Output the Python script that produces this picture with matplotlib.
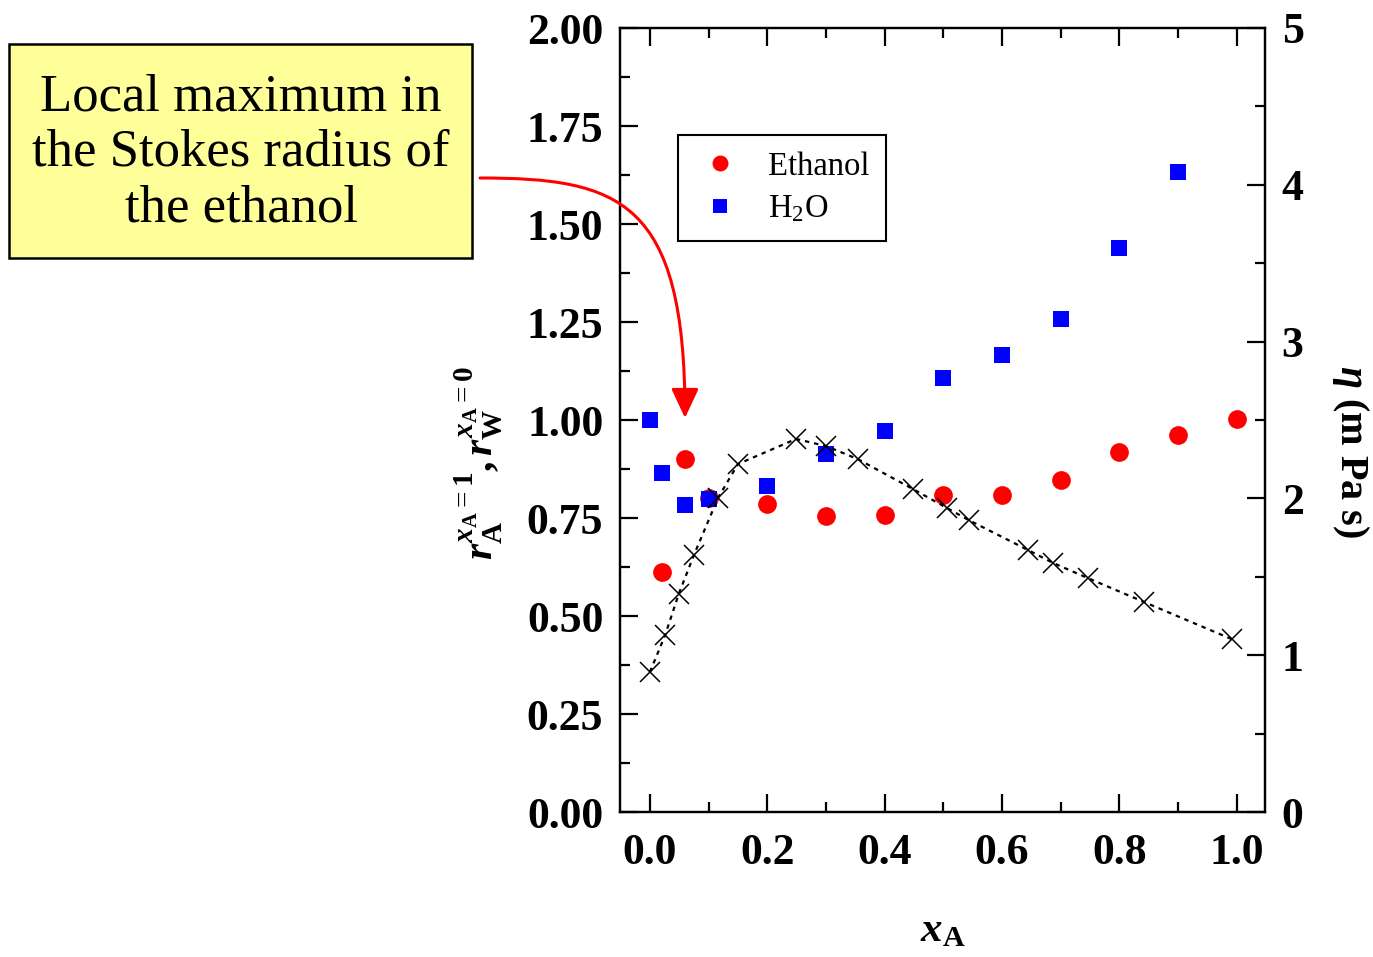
import numpy as np
import matplotlib
matplotlib.use("Agg")
from matplotlib import pyplot as plt
from matplotlib.patches import Rectangle, FancyArrowPatch
from matplotlib.path import Path
from matplotlib.ticker import MultipleLocator

plt.rcParams['font.family'] = ['Liberation Serif', 'DejaVu Serif']
plt.rcParams['mathtext.fontset'] = 'custom'
plt.rcParams['mathtext.rm'] = 'Liberation Serif'
plt.rcParams['mathtext.it'] = 'Liberation Serif:italic:bold'
plt.rcParams['mathtext.bf'] = 'Liberation Serif:bold'

# data
x_eth = [0.02, 0.06, 0.1, 0.2, 0.3, 0.4, 0.5, 0.6, 0.7, 0.8, 0.9, 1.0]
r_eth = [0.612, 0.90, 0.80, 0.786, 0.755, 0.758, 0.809, 0.809, 0.847, 0.918, 0.962, 1.003]

x_h2o = [0.0, 0.02, 0.06, 0.1, 0.2, 0.3, 0.4, 0.5, 0.6, 0.7, 0.8, 0.9, 1.0]
r_h2o = [1.00, 0.865, 0.783, 0.798, 0.832, 0.913, 0.972, 1.107, 1.166, 1.258, 1.439, 1.633, 2.03]

x_visc = [0.0, 0.026, 0.049, 0.075, 0.116, 0.15, 0.249, 0.30, 0.354, 0.448, 0.506,
          0.543, 0.644, 0.687, 0.746, 0.842, 0.991]
eta = [0.893, 1.129, 1.390, 1.639, 2.003, 2.219, 2.379, 2.334, 2.251, 2.060, 1.939,
       1.862, 1.671, 1.588, 1.492, 1.339, 1.103]

W, H = 1373, 957
fig = plt.figure(figsize=(W / 100, H / 100), dpi=100)
ax = fig.add_axes([620 / W, 1 - 812 / H, 645 / W, 784 / H])
ax2 = ax.twinx()

ax.plot(x_eth, r_eth, 'o', color='#ff0000', ms=13.5, mew=0, label='Ethanol', zorder=3)
ax.plot(x_h2o, r_h2o, 's', color='#0000ff', ms=12, mew=0, label='H$_2$O', zorder=3)
ax2.plot(x_visc, eta, color='black', ls=(0, (2, 2.2)), lw=1.6, marker='x', ms=14,
         mew=1.1, zorder=4)

ax.set_xlim(-0.051, 1.048)
ax.set_ylim(0, 2.0)
ax2.set_ylim(0, 5)

ax.xaxis.set_major_locator(MultipleLocator(0.2))
ax.xaxis.set_minor_locator(MultipleLocator(0.1))
ax.yaxis.set_major_locator(MultipleLocator(0.25))
ax.yaxis.set_minor_locator(MultipleLocator(0.125))
ax2.yaxis.set_major_locator(MultipleLocator(1))
ax2.yaxis.set_minor_locator(MultipleLocator(0.5))
ax.yaxis.set_major_formatter(lambda v, p: f"{v:.2f}")
ax.xaxis.set_major_formatter(lambda v, p: f"{v:.1f}")
ax2.yaxis.set_major_formatter(lambda v, p: f"{v:.0f}")

for a in (ax, ax2):
    for s in a.spines.values():
        s.set_linewidth(1.6)
ax.tick_params(which='both', direction='in', width=1.6, top=True, right=False,
               labelsize=31.5, pad=12)
ax.tick_params(axis='x', pad=15)
ax.tick_params(which='major', length=13)
ax.tick_params(which='minor', length=7)
ax2.tick_params(which='both', direction='in', width=1.6, labelsize=31.5, pad=12)
ax2.tick_params(which='major', length=13)
ax2.tick_params(which='minor', length=7)
for lab in ax.get_xticklabels() + ax.get_yticklabels() + ax2.get_yticklabels():
    lab.set_fontweight('bold')

ax.set_xlabel(r'$x_{\mathbf{A}}$', fontsize=31, labelpad=28)
ax.set_ylabel(r'$r_{\mathbf{A}}^{x_{\mathbf{A}}=\mathbf{1}}$$\mathbf{,}\,$$r_{\mathbf{W}}^{x_{\mathbf{A}}=\mathbf{0}}$',
              fontsize=30)
ax.yaxis.set_label_coords(-0.18, 0.445)
ax2.set_ylabel(r'$\eta$ (m Pa s)', fontsize=29, fontweight='bold', rotation=270,
               va='center')
ax2.yaxis.set_label_coords(1.132, 0.46)

leg = ax.legend(loc='upper left', bbox_to_anchor=(678 / W, 1 - 135 / H),
                bbox_transform=fig.transFigure, borderaxespad=0, fontsize=23.5,
                fancybox=False, edgecolor='black', framealpha=1, handlelength=1.55,
                handletextpad=0.72, borderpad=0.5, labelspacing=0.36, markerscale=0.85)
leg.get_frame().set_linewidth(1.5)

# annotation box
fig.patches.append(Rectangle((9 / W, 1 - 258 / H), 463 / W, 214 / H,
                             transform=fig.transFigure, facecolor='#ffff99',
                             edgecolor='black', lw=1.8, zorder=5))
fig.text(241 / W, 1 - 153 / H, 'Local maximum in\nthe Stokes radius of\nthe ethanol',
         ha='center', va='center', fontsize=38, linespacing=1.2, zorder=6)

pts = [(480, 178), (620, 178), (685, 200), (685, 418)]
verts = [(px / W, 1 - py / H) for px, py in pts]
path = Path(verts, [Path.MOVETO, Path.CURVE4, Path.CURVE4, Path.CURVE4])
arrow = FancyArrowPatch(path=path, transform=fig.transFigure, color='#ff0000',
                        lw=2.2, arrowstyle='-|>,head_length=0.9,head_width=0.42',
                        mutation_scale=20, zorder=6)
fig.patches.append(arrow)

fig.savefig('out.png', dpi=100)
